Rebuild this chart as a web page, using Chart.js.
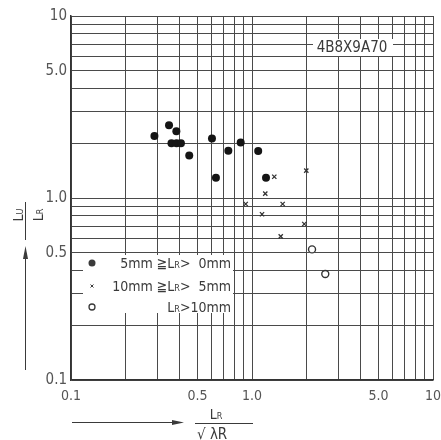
<!DOCTYPE html>
<html lang="ja">
<head>
    <meta charset="UTF-8">
    <title>LU/LR</title>
    <script src="https://cdn.jsdelivr.net/npm/chart.js"></script>
    <style>
        body { margin: 0; background: #fff; }
        canvas { display: block; }
    </style>
</head>
<body>

    <canvas id="resultChart" width="441" height="440"></canvas>

    <script>
        // 5mm >= LR > 0mm
        let smallX = [0.289, 0.348, 0.382, 0.359, 0.383, 0.405, 0.450, 0.601, 0.632, 0.740, 0.866, 1.082, 1.195];
        let smallY = [2.19, 2.51, 2.33, 2.00, 2.00, 2.00, 1.71, 2.12, 1.29, 1.82, 2.02, 1.81, 1.29];
        // 10mm >= LR > 5mm
        let midX = [0.923, 1.184, 1.328, 1.477, 1.136, 1.441, 1.945, 1.995];
        let midY = [0.927, 1.056, 1.309, 0.927, 0.814, 0.616, 0.720, 1.413];
        // LR > 10mm
        let bigX = [2.146, 2.54];
        let bigY = [0.522, 0.382];

        let gridValues = [0.1, 0.2, 0.3, 0.4, 0.5, 0.6, 0.7, 0.8, 0.9, 1, 2, 3, 4, 5, 6, 7, 8, 9, 10];
        let tickLabels = { "0.1": "0.1", "0.5": "0.5", "1": "1.0", "5": "5.0", "10": "10" };
        let legendLabels = [["5mm ≧L", "R", ">  0mm"], ["10mm ≧L", "R", ">  5mm"], ["L", "R", ">10mm"]];
        let boxLabel = "4B8X9A70";

        const FONT = "'Liberation Sans Narrow', 'DejaVu Sans Condensed', 'Liberation Sans', sans-serif";
        const INK = "#3a3a3a";

        function points(xs, ys) {
            return xs.map((x, i) => ({ x: x, y: ys[i] }));
        }

        function setTicks(scale) {
            scale.ticks = gridValues.map(v => ({ value: v }));
        }

        function tickText(v) {
            let key = String(+Number(v).toPrecision(3));
            return tickLabels[key] || "";
        }

        // draws text pieces where the second piece is a small "R"/"U"
        function drawPieces(ctx, pieces, x, y, align) {
            let big = "14px " + FONT, small = "9px " + FONT;
            let widths = pieces.map((p, i) => {
                ctx.font = i === 1 ? small : big;
                return ctx.measureText(p).width;
            });
            let total = widths.reduce((a, b) => a + b, 0);
            let cx = align === "right" ? x - total : align === "center" ? x - total / 2 : x;
            ctx.textAlign = "left";
            ctx.textBaseline = "alphabetic";
            pieces.forEach((p, i) => {
                ctx.font = i === 1 ? small : big;
                ctx.fillText(p, cx, y);
                cx += widths[i];
            });
        }

        const decorations = {
            id: "decorations",
            beforeDatasetsDraw(chart) {
                let ctx = chart.ctx;
                ctx.save();
                // white boxes covering the grid
                ctx.fillStyle = "#fff";
                ctx.fillRect(83, 255, 150, 58);
                ctx.fillRect(313, 39, 80, 17);
                ctx.restore();
            },
            afterDraw(chart) {
                let ctx = chart.ctx;
                ctx.save();
                ctx.fillStyle = INK;
                ctx.strokeStyle = INK;

                // legend
                let rows = [263, 286, 307];
                legendLabels.forEach((lab, i) => {
                    drawPieces(ctx, lab, 231, rows[i] + 5, "right");
                });
                ctx.beginPath();
                ctx.arc(92, rows[0], 3.5, 0, Math.PI * 2);
                ctx.fill();
                ctx.lineWidth = 1;
                ctx.beginPath();
                ctx.moveTo(90.5, rows[1] - 1.5); ctx.lineTo(93.5, rows[1] + 1.5);
                ctx.moveTo(93.5, rows[1] - 1.5); ctx.lineTo(90.5, rows[1] + 1.5);
                ctx.stroke();
                ctx.lineWidth = 1.3;
                ctx.beginPath();
                ctx.arc(92, rows[2], 3, 0, Math.PI * 2);
                ctx.stroke();

                // label in the top right
                ctx.font = "15px " + FONT;
                ctx.textAlign = "center";
                ctx.textBaseline = "middle";
                ctx.fillText(boxLabel, 352, 48);

                // x title: LR / sqrt(lambda R)
                drawPieces(ctx, ["L", "R", ""], 216, 419, "center");
                ctx.lineWidth = 1;
                ctx.beginPath();
                ctx.moveTo(195, 423.5); ctx.lineTo(253, 423.5);
                ctx.stroke();
                ctx.font = "15px " + FONT;
                ctx.textAlign = "left";
                ctx.textBaseline = "alphabetic";
                ctx.fillText("√ λR", 197, 439);

                // x arrow
                ctx.beginPath();
                ctx.moveTo(72, 422.5); ctx.lineTo(176, 422.5);
                ctx.stroke();
                ctx.beginPath();
                ctx.moveTo(184, 422.5); ctx.lineTo(172, 420); ctx.lineTo(172, 425);
                ctx.closePath();
                ctx.fill();

                // y arrow
                ctx.beginPath();
                ctx.moveTo(25.5, 370); ctx.lineTo(25.5, 258);
                ctx.stroke();
                ctx.beginPath();
                ctx.moveTo(25.5, 246); ctx.lineTo(23, 259); ctx.lineTo(28, 259);
                ctx.closePath();
                ctx.fill();

                // y title, rotated: LU / LR
                ctx.translate(25.5, 220);
                ctx.rotate(-Math.PI / 2);
                drawPieces(ctx, ["L", "U", ""], 5, -3, "center");
                drawPieces(ctx, ["L", "R", ""], 5, 17, "center");
                ctx.beginPath();
                ctx.moveTo(-20, 0); ctx.lineTo(18, 0);
                ctx.stroke();

                ctx.restore();
            }
        };

        new Chart(document.getElementById("resultChart").getContext("2d"), {
            type: "scatter",
            data: {
                datasets: [{
                    label: "5mm ≧LR> 0mm",
                    data: points(smallX, smallY),
                    pointStyle: "circle",
                    pointRadius: 4,
                    backgroundColor: "#151515",
                    borderColor: "#151515",
                    borderWidth: 0
                }, {
                    label: "10mm ≧LR> 5mm",
                    data: points(midX, midY),
                    pointStyle: "crossRot",
                    pointRadius: 3,
                    borderColor: "#333",
                    borderWidth: 1.3
                }, {
                    label: "LR>10mm",
                    data: points(bigX, bigY),
                    pointStyle: "circle",
                    pointRadius: 3.5,
                    backgroundColor: "#fff",
                    borderColor: "#333",
                    borderWidth: 1.4
                }]
            },
            options: {
                responsive: false,
                animation: false,
                layout: { padding: { top: 16, right: 8, left: 0, bottom: 0 } },
                plugins: {
                    legend: { display: false },
                    tooltip: { enabled: false }
                },
                scales: {
                    x: {
                        type: "logarithmic",
                        min: 0.1,
                        max: 10,
                        afterBuildTicks: setTicks,
                        afterFit: s => { s.height = 60; s.paddingLeft = 0; s.paddingRight = 0; },
                        grid: { color: "#4a4a4a", lineWidth: 1, drawTicks: false },
                        border: { color: "#333", width: 1.5 },
                        ticks: {
                            autoSkip: false,
                            maxRotation: 0,
                            padding: 8,
                            color: "#555",
                            font: { family: FONT, size: 14 },
                            callback: v => tickText(v)
                        }
                    },
                    y: {
                        type: "logarithmic",
                        min: 0.1,
                        max: 10,
                        afterBuildTicks: setTicks,
                        afterFit: s => { s.width = 71; s.paddingTop = 0; s.paddingBottom = 0; },
                        grid: { color: "#4a4a4a", lineWidth: 1, drawTicks: false },
                        border: { color: "#333", width: 1.5 },
                        ticks: {
                            autoSkip: false,
                            padding: 4,
                            color: "#555",
                            font: { family: FONT, size: 15 },
                            callback: v => tickText(v)
                        }
                    }
                }
            },
            plugins: [decorations]
        });
    </script>

</body>
</html>
